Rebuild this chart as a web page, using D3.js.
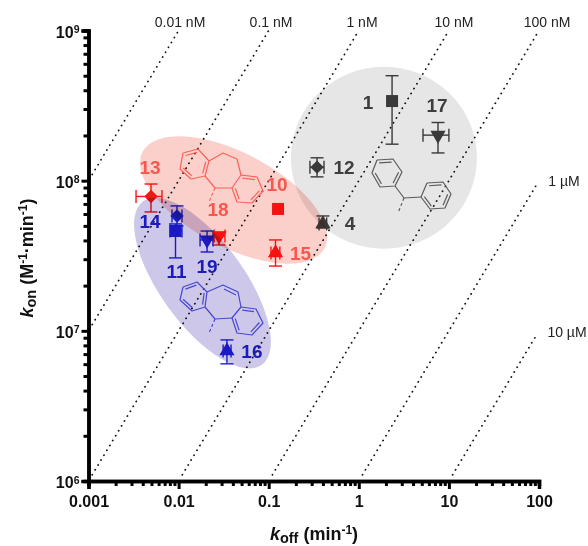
<!DOCTYPE html>
<html>
<head>
<meta charset="utf-8">
<style>
  html, body { margin: 0; padding: 0; background: #fff; }
  svg { display: block; font-family: "Liberation Sans", Arial, sans-serif; }
  .axis .domain { stroke: #000; stroke-width: 3.5; }
  .axis line { stroke: #000; stroke-width: 3; }
  .axis text { font-size: 16px; font-weight: bold; fill: #111; }
</style>
</head>
<body>
<svg id="chart" width="588" height="546"></svg>
<script src="https://cdnjs.cloudflare.com/ajax/libs/d3/7.8.5/d3.min.js"></script>
<script>
// values, one entry per compound
var compounds = ["1", "17", "12", "4", "13", "18", "10", "15", "14", "11", "19", "16"];
var groups = ["gray", "gray", "gray", "gray", "red", "red", "red", "red", "blue", "blue", "blue", "blue"];
var shapes = ["square", "down", "diamond", "up", "diamond", "down", "square", "up", "diamond", "square", "down", "up"];
var koff = [2.34, 7.57, 0.344, 0.40, 0.00494, 0.0281, 0.127, 0.119, 0.0096, 0.00924, 0.0207, 0.0344];
var koffLow = [2.34, 5.16, 0.287, 0.362, 0.00337, 0.0248, 0.127, 0.106, 0.00845, 0.00803, 0.0173, 0.0312];
var koffHigh = [2.34, 10.0, 0.411, 0.44, 0.00654, 0.0327, 0.127, 0.133, 0.0109, 0.0109, 0.0241, 0.0382];
var kon = [3.39e8, 2.01e8, 1.23e8, 5.15e7, 7.85e7, 4.28e7, 6.48e7, 3.30e7, 5.82e7, 4.62e7, 4.03e7, 7.35e6];
var konLow = [1.75e8, 1.53e8, 1.06e8, 4.84e7, 6.19e7, 3.73e7, 6.48e7, 2.70e7, 5.0e7, 3.06e7, 3.35e7, 6.03e6];
var konHigh = [5.0e8, 2.44e8, 1.42e8, 5.82e7, 9.5e7, 4.55e7, 6.48e7, 4.03e7, 6.79e7, 5.15e7, 4.62e7, 8.7e6];

var kdValues = [1e-11, 1e-10, 1e-9, 1e-8, 1e-7, 1e-6, 1e-5];
var kdLabels = ["0.01 nM", "0.1 nM", "1 nM", "10 nM", "100 nM", "1 \u00b5M", "10 \u00b5M"];

var xTicks = [0.001, 0.01, 0.1, 1, 10, 100];
var xTickLabels = ["0.001", "0.01", "0.1", "1", "10", "100"];
var yTicks = [1e6, 1e7, 1e8, 1e9];
var yTickExponents = ["6", "7", "8", "9"];

var markColor = { gray: "#3f3f3f", red: "#fb1414", blue: "#2020d6" };
var labelColor = { gray: "#454545", red: "#fb6a62", blue: "#2222cc" };
var ringColor = { gray: "#666666", red: "#fb7a72", blue: "#5a5ae4" };

var svg = d3.select("#chart");

var x = d3.scaleLog().domain([0.001, 100]).range([88.5, 539]);
var y = d3.scaleLog().domain([1e6, 1e9]).range([481, 30.5]);

// minor values for the log axes
function minorTicks(majors) {
    var out = [];
    majors.slice(0, -1).forEach(function (m) {
        for (var i = 2; i < 10; i++) out.push(m * i);
    });
    return out;
}

// iso-affinity lines
var kdLine = d3.line().x(function (d) { return x(d[0]); }).y(function (d) { return y(d[1]); });
kdValues.forEach(function (kd, i) {
    var left = Math.max(0.001, kd * 1e6) * 1.1;
    var right = Math.min(100, kd * 1e9) * (kd * 1e9 > 100 ? 0.93 : 1);
    svg.append("path")
        .attr("d", kdLine([[left, left / kd], [right, right / kd]]))
        .attr("fill", "none")
        .attr("stroke", "#111")
        .attr("stroke-width", 1.8)
        .attr("stroke-linecap", "round")
        .attr("stroke-dasharray", "0.1 5.6");
});

// label spots for the iso lines, in page pixels
var kdLabelPos = [[180, 27], [271, 27], [362, 27], [454, 27], [547, 27], [564, 186], [567, 337]];
svg.selectAll(".kd-label").data(kdLabels).enter().append("text")
    .attr("class", "kd-label")
    .attr("x", function (d, i) { return kdLabelPos[i][0]; })
    .attr("y", function (d, i) { return kdLabelPos[i][1]; })
    .attr("text-anchor", "middle")
    .attr("font-size", 14)
    .attr("fill", "#222")
    .text(function (d) { return d; });

// error bars and markers
var symbols = {
    square: d3.symbol().type(d3.symbolSquare).size(144)(),
    diamond: d3.symbol().type(d3.symbolSquare).size(90)(),
    up: d3.symbol().type(d3.symbolTriangle).size(100)(),
    down: d3.symbol().type(d3.symbolTriangle).size(100)()
};
var rotate = { square: 0, diamond: 45, up: 0, down: 180 };
var capSize = 6.5;

compounds.forEach(function (name, i) {
    var g = svg.append("g")
        .attr("stroke", markColor[groups[i]])
        .attr("fill", markColor[groups[i]])
        .attr("stroke-width", 1.4);
    var cx = x(koff[i]), cy = y(kon[i]);

    if (konLow[i] !== konHigh[i]) {
        g.append("line").attr("x1", cx).attr("x2", cx).attr("y1", y(konLow[i])).attr("y2", y(konHigh[i]));
        [konLow[i], konHigh[i]].forEach(function (v) {
            g.append("line").attr("x1", cx - capSize).attr("x2", cx + capSize).attr("y1", y(v)).attr("y2", y(v));
        });
    }
    if (koffLow[i] !== koffHigh[i]) {
        g.append("line").attr("x1", x(koffLow[i])).attr("x2", x(koffHigh[i])).attr("y1", cy).attr("y2", cy);
        [koffLow[i], koffHigh[i]].forEach(function (v) {
            g.append("line").attr("x1", x(v)).attr("x2", x(v)).attr("y1", cy - capSize).attr("y2", cy + capSize);
        });
    }
    g.append("path")
        .attr("d", symbols[shapes[i]])
        .attr("stroke", "none")
        .attr("transform", "translate(" + cx + "," + cy + ") rotate(" + rotate[shapes[i]] + ")");
});

// compound numbers, offset from their marker in pixels
var labelOffset = {
    "1": [-24, 8], "17": [-1, -23], "12": [27, 7], "4": [27, 6],
    "13": [-1, -22], "18": [-1, -20], "10": [-1, -18], "15": [25, 7],
    "14": [-27, 12], "11": [1, 47], "19": [0, 33], "16": [25, 7]
};
compounds.forEach(function (name, i) {
    svg.append("text")
        .attr("x", x(koff[i]) + labelOffset[name][0])
        .attr("y", y(kon[i]) + labelOffset[name][1])
        .attr("text-anchor", "middle")
        .attr("font-size", 19)
        .attr("font-weight", "bold")
        .attr("fill", labelColor[groups[i]])
        .text(name);
});

// skeletal formulas, page pixels
function bonds(color, paths, dashed) {
    var line = d3.line();
    paths.forEach(function (p) {
        svg.append("path").attr("d", line(p)).attr("fill", "none")
            .attr("stroke", color).attr("stroke-width", 1.2).attr("stroke-linejoin", "round");
    });
    svg.append("path").attr("d", line(dashed)).attr("fill", "none")
        .attr("stroke", color).attr("stroke-width", 1.2).attr("stroke-dasharray", "3 2.5");
}
// ring outline plus three inner double-bond strokes
function ring(pts) {
    var cx = d3.mean(pts, function (p) { return p[0]; });
    var cy = d3.mean(pts, function (p) { return p[1]; });
    var out = [pts.concat([pts[0]])];
    [0, 2, 4].forEach(function (k) {
        var a = pts[k], b = pts[(k + 1) % 6];
        var s = function (p) { return [cx + (p[0] - cx) * 0.78, cy + (p[1] - cy) * 0.78]; };
        out.push([s(a), s(b)]);
    });
    return out;
}

bonds(ringColor.gray,
    ring([[377, 160], [393, 159], [402, 172], [395, 186], [380, 187], [372, 173]])
        .concat(ring([[427, 183], [443, 182], [451, 194], [445, 208], [430, 209], [421, 197]]))
        .concat([[[395, 186], [404, 198], [421, 197]]]),
    [[404, 198], [398, 213]]);

bonds(ringColor.red,
    ring([[183, 153], [198, 149], [209, 161], [205, 176], [191, 179], [180, 169]])
        .concat(ring([[241, 175], [257, 177], [263, 191], [252, 203], [237, 202], [232, 188]]))
        .concat([[[209, 161], [223, 153], [237, 159], [241, 175]], [[232, 188], [215, 188], [205, 176]]]),
    [[215, 188], [209, 202]]);

bonds(ringColor.blue,
    ring([[183, 287], [197, 282], [207, 292], [205, 307], [192, 311], [180, 300]])
        .concat(ring([[241, 307], [256, 309], [263, 323], [252, 335], [237, 333], [232, 318]]))
        .concat([[[207, 292], [223, 285], [238, 292], [241, 307]], [[224, 289], [236, 295]], [[232, 318], [215, 319], [205, 307]]]),
    [[215, 319], [209, 333]]);

// axes
var xMinor = d3.axisBottom(x).tickValues(minorTicks(xTicks)).tickSize(5).tickFormat("");
var xMajor = d3.axisBottom(x).tickValues(xTicks).tickSize(8).tickPadding(7)
    .tickFormat(function (d, i) { return xTickLabels[i]; });
var yMinor = d3.axisLeft(y).tickValues(minorTicks(yTicks)).tickSize(5).tickFormat("");
var yMajor = d3.axisLeft(y).tickValues(yTicks).tickSize(7).tickPadding(2).tickFormat("");

svg.append("g").attr("class", "axis").attr("transform", "translate(0,481)").call(xMinor);
svg.append("g").attr("class", "axis").attr("transform", "translate(0,481)").call(xMajor);
svg.append("g").attr("class", "axis").attr("transform", "translate(88.5,0)").call(yMinor);
var yAxisG = svg.append("g").attr("class", "axis").attr("transform", "translate(88.5,0)").call(yMajor);

yAxisG.selectAll(".tick text").each(function (d, i) {
    var t = d3.select(this).attr("x", -9).attr("dy", "0.42em");
    t.append("tspan").text("10");
    t.append("tspan").attr("dy", "-0.45em").attr("font-size", "10.5px").text(yTickExponents[i]);
});

// axis titles
var xTitle = svg.append("text")
    .attr("x", 314).attr("y", 540)
    .attr("text-anchor", "middle")
    .attr("font-size", 18).attr("font-weight", "bold").attr("fill", "#111");
xTitle.append("tspan").attr("font-style", "italic").text("k");
xTitle.append("tspan").attr("font-size", 14.5).attr("dy", 3).text("off");
xTitle.append("tspan").attr("dy", -3).text(" (min");
xTitle.append("tspan").attr("font-size", 12).attr("dy", -6).text("-1");
xTitle.append("tspan").attr("dy", 6).text(")");

var yTitle = svg.append("text")
    .attr("transform", "translate(33,258) rotate(-90)")
    .attr("text-anchor", "middle")
    .attr("font-size", 18).attr("font-weight", "bold").attr("fill", "#111");
yTitle.append("tspan").attr("font-style", "italic").text("k");
yTitle.append("tspan").attr("font-size", 14.5).attr("dy", 3).text("on");
yTitle.append("tspan").attr("dy", -3).text(" (M");
yTitle.append("tspan").attr("font-size", 12).attr("dy", -6).text("-1");
yTitle.append("tspan").attr("dy", 6).text("\u00b7min");
yTitle.append("tspan").attr("font-size", 12).attr("dy", -6).text("-1");
yTitle.append("tspan").attr("dy", 6).text(")");

// group shading sits over the marks and tints them
var blobs = [
    { koff: 1.9, kon: 1.42e8, rx: 93, ry: 91, angle: 0, fill: "#e6e6e6" },
    { koff: 0.0408, kon: 7.44e7, rx: 103, ry: 47, angle: 28, fill: "#fbd0cb" },
    { koff: 0.0184, kon: 2.08e7, rx: 101, ry: 42, angle: 54, fill: "#cdc8ea" }
];
svg.selectAll(".blob").data(blobs).enter().append("ellipse")
    .attr("class", "blob")
    .attr("rx", function (d) { return d.rx; })
    .attr("ry", function (d) { return d.ry; })
    .attr("fill", function (d) { return d.fill; })
    .attr("transform", function (d) {
        return "translate(" + x(d.koff) + "," + y(d.kon) + ") rotate(" + d.angle + ")";
    })
    .style("mix-blend-mode", "multiply");
</script>
</body>
</html>
